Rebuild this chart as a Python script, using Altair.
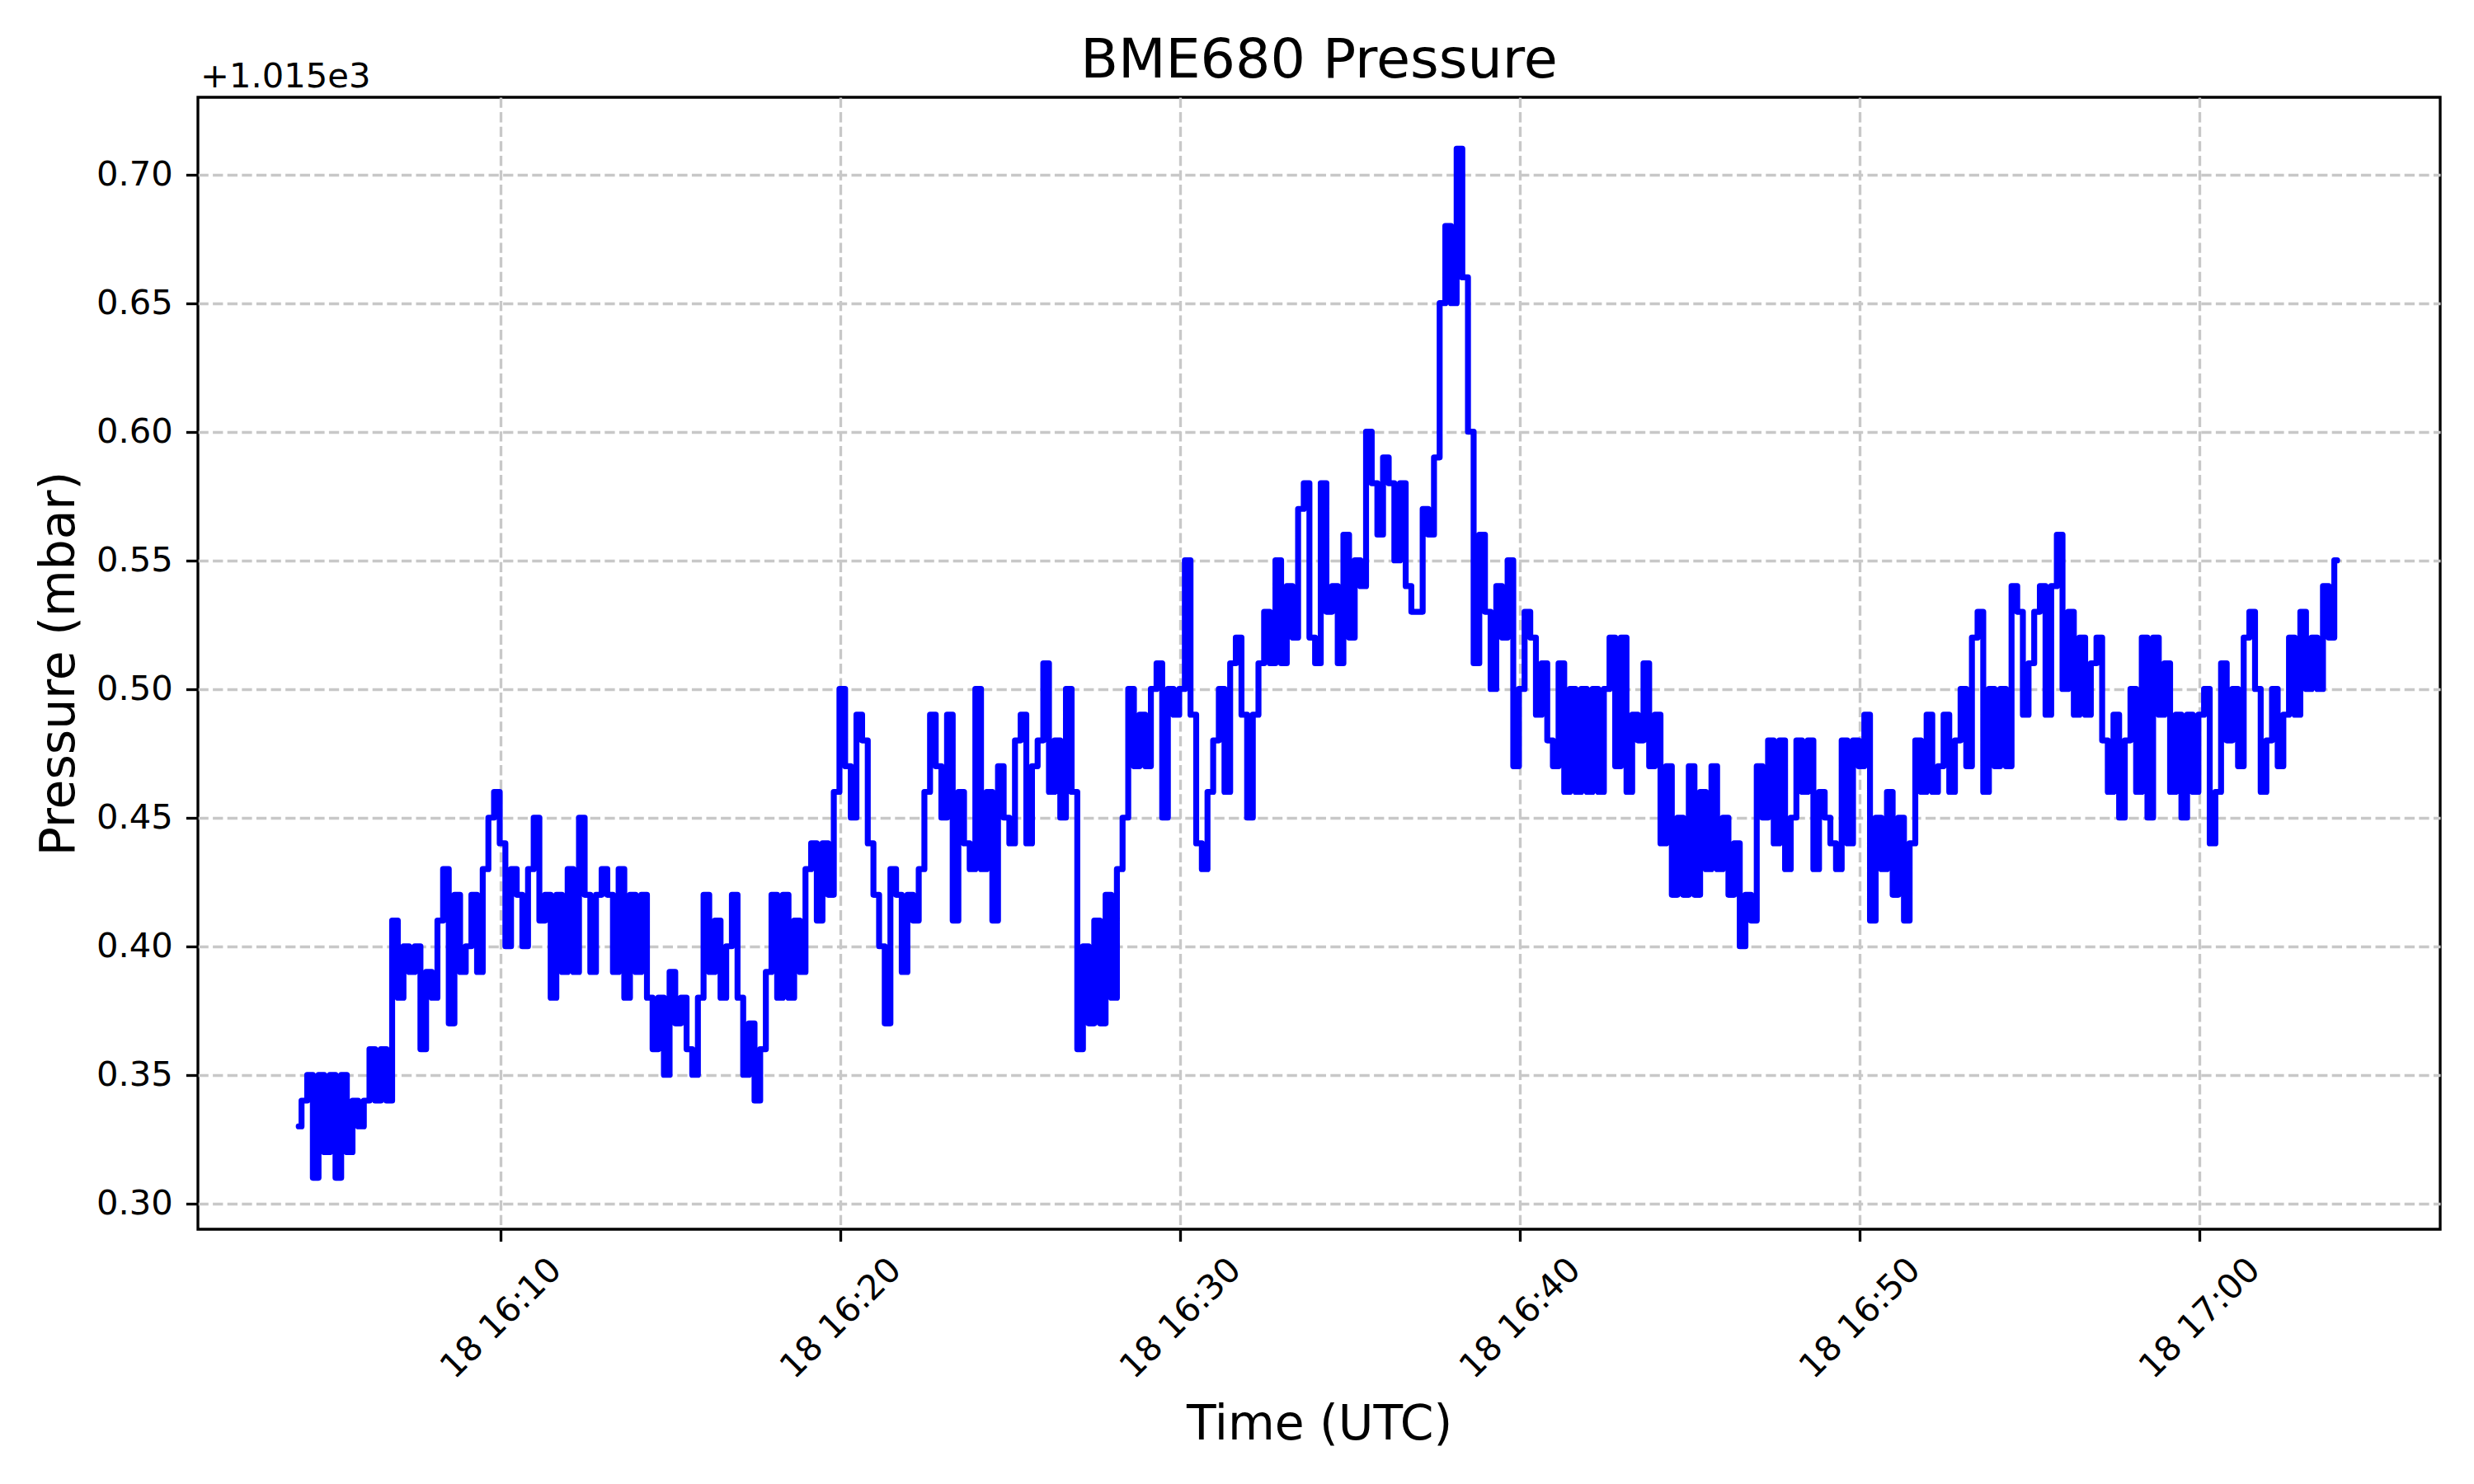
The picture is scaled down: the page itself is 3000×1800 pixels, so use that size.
import altair as alt
import pandas as pd

TITLE = "BME680 Pressure"
X_TITLE = "Time (UTC)"
Y_TITLE = "Pressure (mbar)"
OFFSET_LABEL = "+1.015e3"

P_BASE = 1015.0
START = pd.Timestamp("2025-01-18 16:04:03", tz="UTC")
STEP = "10s"

# hundredths of a mbar above 1015, six readings per minute (16:04 ... 17:03)
PRESSURE_BY_MINUTE = [
    [33, 34, 35, 31, 35, 32],  # 16:04
    [35, 31, 35, 32, 34, 33],  # 16:05
    [34, 36, 34, 36, 34, 41],  # 16:06
    [38, 40, 39, 40, 36, 39],  # 16:07
    [38, 41, 43, 37, 42, 39],  # 16:08
    [40, 42, 39, 43, 45, 46],  # 16:09
    [44, 40, 43, 42, 40, 43],  # 16:10
    [45, 41, 42, 38, 42, 39],  # 16:11
    [43, 39, 45, 42, 39, 42],  # 16:12
    [43, 42, 39, 43, 38, 42],  # 16:13
    [39, 42, 38, 36, 38, 35],  # 16:14
    [39, 37, 38, 36, 35, 38],  # 16:15
    [42, 39, 41, 38, 40, 42],  # 16:16
    [38, 35, 37, 34, 36, 39],  # 16:17
    [42, 38, 42, 38, 41, 39],  # 16:18
    [43, 44, 41, 44, 42, 46],  # 16:19
    [50, 47, 45, 49, 48, 44],  # 16:20
    [42, 40, 37, 43, 42, 39],  # 16:21
    [42, 41, 43, 46, 49, 47],  # 16:22
    [45, 49, 41, 46, 44, 43],  # 16:23
    [50, 43, 46, 41, 47, 45],  # 16:24
    [44, 48, 49, 44, 47, 48],  # 16:25
    [51, 46, 48, 45, 50, 46],  # 16:26
    [36, 40, 37, 41, 37, 42],  # 16:27
    [38, 43, 45, 50, 47, 49],  # 16:28
    [47, 50, 51, 45, 50, 49],  # 16:29
    [50, 55, 49, 44, 43, 46],  # 16:30
    [48, 50, 46, 51, 52, 49],  # 16:31
    [45, 49, 51, 53, 51, 55],  # 16:32
    [51, 54, 52, 57, 58, 52],  # 16:33
    [51, 58, 53, 54, 51, 56],  # 16:34
    [52, 55, 54, 60, 58, 56],  # 16:35
    [59, 58, 55, 58, 54, 53],  # 16:36
    [53, 57, 56, 59, 65, 68],  # 16:37
    [65, 71, 66, 60, 51, 56],  # 16:38
    [53, 50, 54, 52, 55, 47],  # 16:39
    [50, 53, 52, 49, 51, 48],  # 16:40
    [47, 51, 46, 50, 46, 50],  # 16:41
    [46, 50, 46, 50, 52, 47],  # 16:42
    [52, 46, 49, 48, 51, 47],  # 16:43
    [49, 44, 47, 42, 45, 42],  # 16:44
    [47, 42, 46, 43, 47, 43],  # 16:45
    [45, 42, 44, 40, 42, 41],  # 16:46
    [47, 45, 48, 44, 48, 43],  # 16:47
    [45, 48, 46, 48, 43, 46],  # 16:48
    [45, 44, 43, 48, 44, 48],  # 16:49
    [47, 49, 41, 45, 43, 46],  # 16:50
    [42, 45, 41, 44, 48, 46],  # 16:51
    [49, 46, 47, 49, 46, 48],  # 16:52
    [50, 47, 52, 53, 46, 50],  # 16:53
    [47, 50, 47, 54, 53, 49],  # 16:54
    [51, 53, 54, 49, 54, 56],  # 16:55
    [50, 53, 49, 52, 49, 51],  # 16:56
    [52, 48, 46, 49, 45, 48],  # 16:57
    [50, 46, 52, 45, 52, 49],  # 16:58
    [51, 46, 49, 45, 49, 46],  # 16:59
    [49, 50, 44, 46, 51, 48],  # 17:00
    [50, 47, 52, 53, 50, 46],  # 17:01
    [48, 50, 47, 49, 52, 49],  # 17:02
    [53, 50, 52, 50, 54, 52],  # 17:03
]
PRESSURE_LAST = [55]  # 17:04

Y_TICKS = [1015.30, 1015.35, 1015.40, 1015.45, 1015.50, 1015.55, 1015.60, 1015.65, 1015.70]
Y_DOMAIN = [1015.29, 1015.73]
X_TICK_TIMES = [(16, 10), (16, 20), (16, 30), (16, 40), (16, 50), (17, 0)]
X_DOMAIN_TIMES = [(16, 1, 5), (17, 7, 5)]

hundredths = [v for row in PRESSURE_BY_MINUTE for v in row] + PRESSURE_LAST
times = pd.date_range(start=START, periods=len(hundredths), freq=STEP)
df = pd.DataFrame({
    "time": times.strftime("%Y-%m-%dT%H:%M:%SZ"),
    "pressure": [round(P_BASE + v / 100.0, 2) for v in hundredths],
})


def dt(h, m, s=0):
    return alt.DateTime(year=2025, month=1, date=18, hours=h, minutes=m, seconds=s, utc=True)


PLOT_W = 2719
PLOT_H = 1373
FONT = "DejaVu Sans"
LW = 3.33

line = alt.Chart(df).mark_line(
    color="#0000ff", strokeWidth=7.2, strokeJoin="round", strokeCap="round",
    interpolate="step"
).encode(
    x=alt.X(
        "time:T",
        scale=alt.Scale(type="utc", domain=[dt(*X_DOMAIN_TIMES[0]), dt(*X_DOMAIN_TIMES[1])]),
        axis=alt.Axis(
            title=X_TITLE,
            values=[dt(h, m) for h, m in X_TICK_TIMES],
            labelExpr="utcFormat(datum.value, '%d %H:%M')",
            labelAngle=315,
            labelAlign="center",
            labelBaseline="middle",
            labelPadding=93,
            labelLimit=1000,
            labelOverlap=False,
            labelFlush=False,
            titleX=PLOT_W / 2,
            titleY=254,
            titleAlign="center",
            titleBaseline="alphabetic",
            titleAnchor="middle",
        ),
    ),
    y=alt.Y(
        "pressure:Q",
        scale=alt.Scale(domain=Y_DOMAIN, nice=False, zero=False),
        axis=alt.Axis(
            title=Y_TITLE,
            values=Y_TICKS,
            labelExpr="format(datum.value - 1015, '.2f')",
            labelAlign="right",
            labelBaseline="middle",
            labelPadding=16,
            labelLimit=1000,
            labelOverlap=False,
            labelFlush=False,
            titleX=-151,
            titleY=PLOT_H / 2,
            titleAngle=270,
            titleAlign="center",
            titleBaseline="alphabetic",
        ),
    ),
)

title_text = alt.Chart(pd.DataFrame({"label": [TITLE]})).mark_text(
    font=FONT, fontSize=66.7, align="center", baseline="alphabetic", color="black"
).encode(text="label:N", x=alt.value(PLOT_W / 2), y=alt.value(-24))

offset_text = alt.Chart(pd.DataFrame({"label": [OFFSET_LABEL]})).mark_text(
    font=FONT, fontSize=41.7, align="left", baseline="alphabetic", color="black"
).encode(text="label:N", x=alt.value(3), y=alt.value(-12))

chart = alt.layer(line, title_text, offset_text).properties(
    width=PLOT_W,
    height=PLOT_H,
    autosize=alt.AutoSizeParams(type="none"),
    padding={"left": 232, "top": 110, "right": 30, "bottom": 280},
    background="white",
).configure_view(
    stroke="black", strokeWidth=LW, fill="white"
).configure_axis(
    domain=False,
    grid=True,
    gridColor="#c8c8c8",
    gridDash=[12.3, 5.3],
    gridWidth=LW,
    ticks=True,
    tickColor="black",
    tickSize=14.6,
    tickWidth=LW,
    labelFont=FONT,
    labelFontSize=41.7,
    labelColor="black",
    titleFont=FONT,
    titleFontSize=58.3,
    titleFontWeight="normal",
    titleColor="black",
)

chart.save("out.html", embed_options={"renderer": "svg", "actions": False})
